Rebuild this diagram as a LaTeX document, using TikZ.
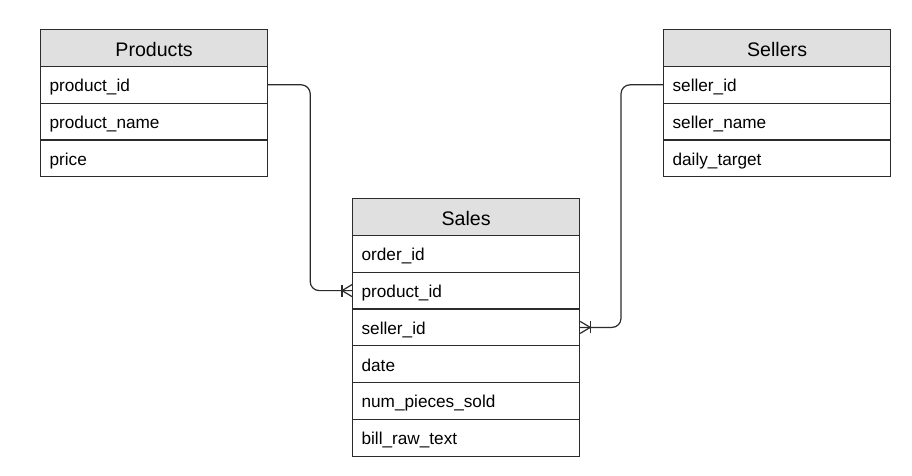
\documentclass[tikz,border=0pt]{standalone}
\usepackage{fontspec}
\setmainfont{Liberation Sans}
\definecolor{hdr}{HTML}{E0E0E0}
\definecolor{edge}{HTML}{2B2B2B}
\begin{document}
\begin{tikzpicture}[x=1pt,y=-1pt,
  cell/.style={draw=edge, line width=1.2pt, rectangle, anchor=north west,
    minimum width=227pt, minimum height=36.8pt, inner sep=0pt},
  headcell/.style={cell, fill=hdr, align=center, text width=227pt,
    text height=17.5pt, text depth=0pt,
    font=\fontsize{19.6}{22}\selectfont},
  rowcell/.style={cell, fill=white, align=left, text width=209pt, inner xsep=9pt,
    text height=13.6pt, text depth=0pt,
    font=\fontsize{17.2}{19}\selectfont},
  link/.style={draw=edge, line width=1.2pt, rounded corners=9pt},
  foot/.style={draw=edge, line width=1.2pt}
]
\useasboundingbox (0,0) rectangle (912,476);

% Products
\node[headcell] (ph) at (40,29) {Products};
\node[rowcell] (p1) at (40,65.8) {product\_id};
\node[rowcell] (p2) at (40,102.6) {product\_name};
\node[rowcell] (p3) at (40,139.4) {price};

% Sellers
\node[headcell] (sh) at (663,29) {Sellers};
\node[rowcell] (s1) at (663,65.8) {seller\_id};
\node[rowcell] (s2) at (663,102.6) {seller\_name};
\node[rowcell] (s3) at (663,139.4) {daily\_target};

% Sales
\node[headcell] (xh) at (352,198) {Sales};
\node[rowcell] (x1) at (352,234.8) {order\_id};
\node[rowcell] (x2) at (352,271.6) {product\_id};
\node[rowcell] (x3) at (352,308.4) {seller\_id};
\node[rowcell] (x4) at (352,345.2) {date};
\node[rowcell] (x5) at (352,382) {num\_pieces\_sold};
\node[rowcell] (x6) at (352,418.8) {bill\_raw\_text};

% connectors
\draw[link] (p1.east) -- ++(42,0) |- (x2.west);
\draw[link] (s1.west) -- ++(-42,0) |- (x3.east);

% crow's feet (one-or-many)
\draw[foot] ([xshift=-10pt,yshift=-6pt]x2.west) -- ([xshift=-10pt,yshift=6pt]x2.west);
\draw[foot] ([yshift=-6pt]x2.west) -- ([xshift=-10pt]x2.west) -- ([yshift=6pt]x2.west);
\draw[foot] ([xshift=10pt,yshift=-6pt]x3.east) -- ([xshift=10pt,yshift=6pt]x3.east);
\draw[foot] ([yshift=-6pt]x3.east) -- ([xshift=10pt]x3.east) -- ([yshift=6pt]x3.east);
\end{tikzpicture}
\end{document}
